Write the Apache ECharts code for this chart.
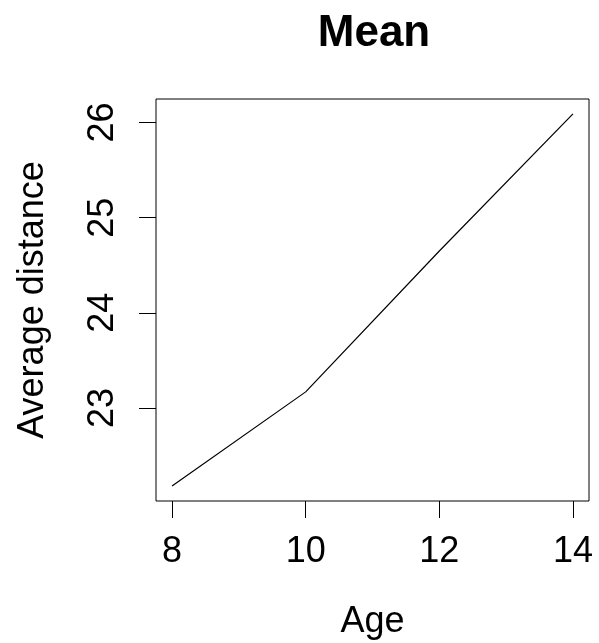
<!DOCTYPE html>
<html>
<head>
<meta charset="utf-8">
<script src="https://cdn.jsdelivr.net/npm/echarts@6/dist/echarts.min.js"></script>
<style>
  html, body { margin: 0; padding: 0; background: #fff; }
  #chart { width: 599px; height: 643px; }
</style>
</head>
<body>
<div id="chart"></div>
<script>
// ages on the x axis and the mean distance
var ages = [8, 10, 12, 14];
var meanDistance = [22.18, 23.17, 24.65, 26.09];
var xTicks = [8, 10, 12, 14];
var yTicks = [23, 24, 25, 26];

var font = 'Liberation Sans, Arial, Helvetica, sans-serif';

var myChart = echarts.init(document.getElementById('chart'));

var points = [];
for (var i = 0; i < ages.length; i++) {
    points.push([ages[i], meanDistance[i]]);
}

// R pads each axis range by 4%
function padded(vals) {
    var min = Math.min.apply(null, vals), max = Math.max.apply(null, vals);
    var d = (max - min) * 0.04;
    return [min - d, max + d];
}
var xr = padded(ages), yr = padded(meanDistance);

var option = {
    animation: false,
    backgroundColor: '#fff',
    title: {
        text: 'Mean',
        left: 369,
        textAlign: 'center',
        top: 7,
        textStyle: { fontFamily: font, fontSize: 44, fontWeight: 'bold', color: '#000' }
    },
    grid: {
        left: 156, right: 10, top: 99, bottom: 142,
        show: true, borderColor: '#000', borderWidth: 1,
        containLabel: false, outerBoundsMode: 'none'
    },
    xAxis: {
        type: 'value',
        min: xr[0], max: xr[1],
        name: 'Age',
        nameLocation: 'middle',
        nameGap: 103,
        nameTextStyle: { fontFamily: font, fontSize: 36, color: '#000' },
        axisLine: { show: false },
        splitLine: { show: false },
        axisTick: { show: true, customValues: xTicks, length: 17, lineStyle: { color: '#000', width: 1 } },
        axisLabel: { customValues: xTicks, margin: 33, fontFamily: font, fontSize: 36, color: '#000' }
    },
    yAxis: {
        type: 'value',
        min: yr[0], max: yr[1],
        name: 'Average distance',
        nameLocation: 'middle',
        nameRotate: 90,
        nameGap: 105,
        nameTextStyle: { fontFamily: font, fontSize: 36, color: '#000' },
        axisLine: { show: false },
        splitLine: { show: false },
        axisTick: { show: true, customValues: yTicks, length: 17, lineStyle: { color: '#000', width: 1 } },
        axisLabel: { customValues: yTicks, rotate: 90, margin: 35, fontFamily: font, fontSize: 36, color: '#000' }
    },
    series: [{
        type: 'line',
        data: points,
        showSymbol: false,
        lineStyle: { color: '#000', width: 1.2 }
    }]
};

myChart.setOption(option);
</script>
</body>
</html>
